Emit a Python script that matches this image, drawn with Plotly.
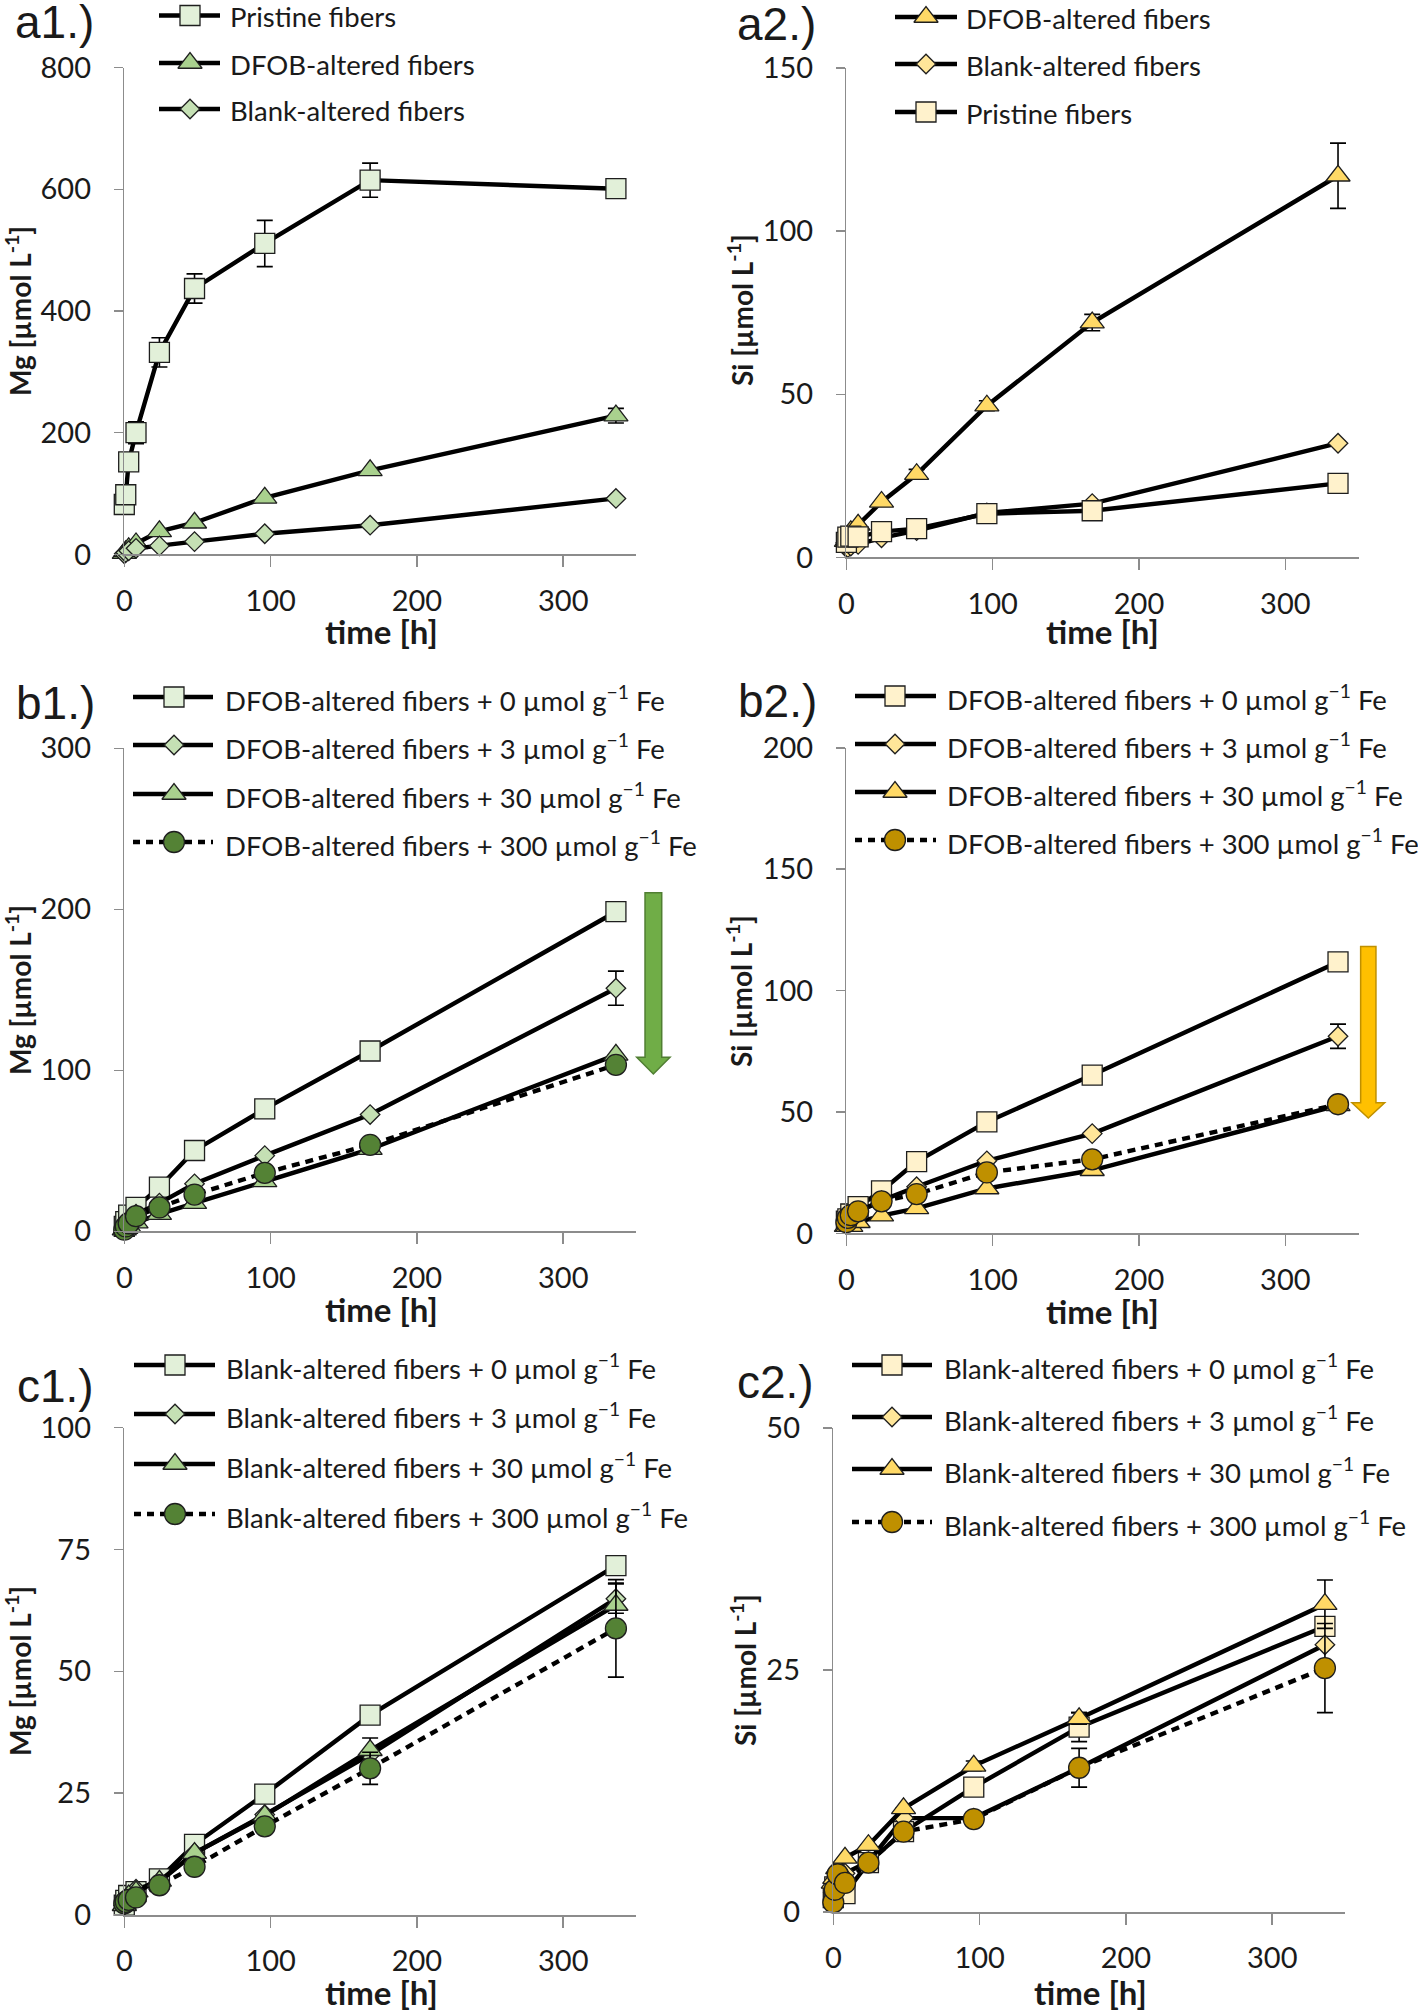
import plotly.graph_objects as go

W, H = 1418, 2010

# ---------------- data ----------------
time_h = [0, 1, 3, 8, 24, 48, 96, 168, 336]

# a1: Mg
a1_pristine = [82, 98, 152, 200, 332, 437, 511, 615, 601]
a1_pristine_err = [0, 0, 0, 18, 24, 24, 38, 28, 10]
a1_dfob = [2, 5, 10, 18, 38, 52, 93, 138, 228]
a1_dfob_err = [0, 0, 0, 0, 0, 0, 0, 0, 12]
a1_blank = [1, 3, 6, 10, 14, 21, 34, 48, 92]
a1_blank_err = [0, 0, 0, 0, 0, 0, 0, 0, 2]

# a2: Si
a2_dfob = [5, 6, 8, 10, 17, 25.5, 46.5, 72, 117]
a2_dfob_err = [0, 0, 0, 0, 0, 1.5, 1.5, 2.5, 10]
a2_blank = [3, 3, 3.5, 4, 6, 8.2, 13.6, 16.5, 35]
a2_blank_err = [0, 0, 0, 0, 0, 0, 0, 0, 0.5]
a2_pristine = [4.6, 6.2, 6.5, 6.3, 7.9, 8.8, 13.4, 14.3, 22.7]
a2_pristine_err = [0, 0, 0, 0, 0, 0, 0.5, 0.5, 0.5]

# b1: Mg, DFOB-altered + Fe
b1_fe0 = [3, 6, 10, 14.8, 27.4, 50.2, 76, 112, 198.5]
b1_fe3 = [2, 4, 6, 10.7, 17.5, 29.5, 47, 72.5, 151]
b1_fe3_err = [0, 0, 0, 0, 0, 0, 0, 0, 10.6]
b1_fe30 = [1, 2, 3, 5.4, 10.7, 17.5, 31, 51, 109.6]
b1_fe300 = [1, 3, 5, 9.4, 14.8, 22.8, 36.3, 53.7, 103.4]

# b2: Si, DFOB-altered + Fe
b2_fe0 = [5, 6, 8, 11, 17.5, 29.6, 45.9, 65.2, 111.8]
b2_fe3 = [4, 5, 7, 9, 13.5, 19.2, 29.9, 41.1, 81.2]
b2_fe3_err = [0, 0, 0, 0, 0, 0, 0, 0, 5]
b2_fe30 = [3, 3, 3, 4.6, 7.3, 10.3, 18.5, 26, 52.7]
b2_fe300 = [4.6, 6.4, 7.5, 9.1, 13.2, 16.2, 25.1, 30.5, 53.2]

# c1: Mg, Blank-altered + Fe
c1_fe0 = [2, 3, 4, 4.8, 7.4, 14.5, 24.8, 41.0, 71.7]
c1_fe3 = [2, 3, 4, 5.3, 6.8, 12.7, 20.6, 32.9, 64.9]
c1_fe3_err = [0, 0, 0, 0, 0, 0, 0, 0, 3]
c1_fe30 = [2, 3, 4, 4.8, 7, 12.7, 20.4, 33.8, 63.6]
c1_fe30_err = [0, 0, 0, 0, 0, 0, 0, 2.5, 4.5]
c1_fe300 = [2.4, 2.7, 3.1, 3.6, 6.1, 9.9, 18.2, 30.1, 58.8]
c1_fe300_err = [0, 0, 0, 0, 0, 0, 0, 3.3, 10]

# c2: Si, Blank-altered + Fe
c2_fe0 = [1.5, 2.6, 2.2, 1.9, 5.1, 8.3, 12.9, 19.1, 29.5]
c2_fe0_err = [0, 0, 0, 0, 0, 0, 0, 1.5, 0.5]
c2_fe3 = [2, 2.5, 3, 4, 5.2, 9.7, 9.7, 14.9, 27.6]
c2_fe30 = [3, 3.5, 4.5, 5.6, 6.9, 10.7, 15.1, 20, 31.8]
c2_fe30_err = [0, 0, 0, 0, 0, 0, 0.5, 0.6, 2.5]
c2_fe300 = [1.0, 2.3, 3.9, 3.0, 5.1, 8.3, 9.6, 14.9, 25.2]
c2_fe300_err = [0, 0, 0, 0, 0, 0, 0.7, 2.0, 4.6]

zeros = [0] * len(time_h)

x_ticks = [0, 100, 200, 300]
fe_doses = ["0", "3", "30", "300"]

# arrows (data units of their panel): x, y_top, y_tip
b1_arrow = (361.6, 210.3, 97.7)
b2_arrow = (356.7, 118.2, 47.5)

# ---------------- styles ----------------
G0, G3, G30, G300 = "#E2F0D9", "#C5E0B4", "#A9D18E", "#548235"
Y0, Y3, Y30, Y300 = "#FFF2CC", "#FFE699", "#FFD966", "#BF9000"
AXC = "#8C8C8C"
FONT = "Lato"
SYM = {"square": 20, "diamond": 15, "triangle-up": 21, "circle": 21}
DASH_DATA = "8px,6px"
DASH_LEG = "7px,6px"

def fe_label(base, n):
    return f"{base} + {n} µmol g<sup>−1</sup> Fe"

panels = [
    dict(key="a1", box=(124.3, 636.4, 67.6, 554.4), ymax=800, dtick=200,
         ytitle="Mg", label="a1.)", lab_xy=(54, 22), yt_xy=(18, 311), xt_xy=(381, 631),
         leg=dict(x0=159, x1=220, xm=190, xt=228, rows=[15.5, 63, 109]),
         series=[("Pristine fibers", a1_pristine, a1_pristine_err, "square", G0, "solid"),
                 ("DFOB-altered fibers", a1_dfob, a1_dfob_err, "triangle-up", G30, "solid"),
                 ("Blank-altered fibers", a1_blank, a1_blank_err, "diamond", G3, "solid")]),
    dict(key="a2", box=(846.4, 1358.5, 68.1, 557.4), ymax=150, dtick=50,
         ytitle="Si", label="a2.)", lab_xy=(776, 24), yt_xy=(740, 310), xt_xy=(1102, 631),
         leg=dict(x0=895, x1=957, xm=926, xt=964, rows=[17, 64, 112]),
         series=[("DFOB-altered fibers", a2_dfob, a2_dfob_err, "triangle-up", Y30, "solid"),
                 ("Blank-altered fibers", a2_blank, a2_blank_err, "diamond", Y3, "solid"),
                 ("Pristine fibers", a2_pristine, a2_pristine_err, "square", Y0, "solid")]),
    dict(key="b1", box=(124.3, 636.4, 748.3, 1231.3), ymax=300, dtick=100,
         ytitle="Mg", label="b1.)", lab_xy=(55, 703), yt_xy=(18, 990), xt_xy=(381, 1309),
         leg=dict(x0=133, x1=213, xm=174, xt=223, rows=[697, 745, 794, 842]),
         series=[(fe_label("DFOB-altered fibers", fe_doses[0]), b1_fe0, zeros, "square", G0, "solid"),
                 (fe_label("DFOB-altered fibers", fe_doses[1]), b1_fe3, b1_fe3_err, "diamond", G3, "solid"),
                 (fe_label("DFOB-altered fibers", fe_doses[2]), b1_fe30, zeros, "triangle-up", G30, "solid"),
                 (fe_label("DFOB-altered fibers", fe_doses[3]), b1_fe300, zeros, "circle", G300, "dash")],
         arrow=(b1_arrow, 16.7, 33.3, 16.7, "#70AD47", "#507E32")),
    dict(key="b2", box=(846.4, 1358.5, 747.8, 1233.4), ymax=200, dtick=50,
         ytitle="Si", label="b2.)", lab_xy=(777, 701), yt_xy=(739, 991), xt_xy=(1102, 1311),
         leg=dict(x0=855, x1=936, xm=895, xt=945, rows=[696, 744, 792, 840]),
         series=[(fe_label("DFOB-altered fibers", fe_doses[0]), b2_fe0, zeros, "square", Y0, "solid"),
                 (fe_label("DFOB-altered fibers", fe_doses[1]), b2_fe3, b2_fe3_err, "diamond", Y3, "solid"),
                 (fe_label("DFOB-altered fibers", fe_doses[2]), b2_fe30, zeros, "triangle-up", Y30, "solid"),
                 (fe_label("DFOB-altered fibers", fe_doses[3]), b2_fe300, zeros, "circle", Y300, "dash")],
         arrow=(b2_arrow, 15.3, 32.7, 15.2, "#FFC000", "#BF9000")),
    dict(key="c1", box=(124.3, 636.4, 1427.6, 1915.0), ymax=100, dtick=25,
         ytitle="Mg", label="c1.)", lab_xy=(55, 1386), yt_xy=(18, 1671), xt_xy=(381, 1992),
         leg=dict(x0=134, x1=215, xm=175, xt=224, rows=[1365, 1414, 1464, 1514]),
         series=[(fe_label("Blank-altered fibers", fe_doses[0]), c1_fe0, zeros, "square", G0, "solid"),
                 (fe_label("Blank-altered fibers", fe_doses[1]), c1_fe3, c1_fe3_err, "diamond", G3, "solid"),
                 (fe_label("Blank-altered fibers", fe_doses[2]), c1_fe30, c1_fe30_err, "triangle-up", G30, "solid"),
                 (fe_label("Blank-altered fibers", fe_doses[3]), c1_fe300, c1_fe300_err, "circle", G300, "dash")]),
    dict(key="c2", box=(833.3, 1345.4, 1428.0, 1912.0), ymax=50, dtick=25,
         ytitle="Si", label="c2.)", lab_xy=(775, 1382), yt_xy=(743, 1670), xt_xy=(1090, 1992),
         leg=dict(x0=852, x1=932, xm=892, xt=942, rows=[1365, 1417, 1469, 1522]),
         series=[(fe_label("Blank-altered fibers", fe_doses[0]), c2_fe0, c2_fe0_err, "square", Y0, "solid"),
                 (fe_label("Blank-altered fibers", fe_doses[1]), c2_fe3, zeros, "diamond", Y3, "solid"),
                 (fe_label("Blank-altered fibers", fe_doses[2]), c2_fe30, c2_fe30_err, "triangle-up", Y30, "solid"),
                 (fe_label("Blank-altered fibers", fe_doses[3]), c2_fe300, c2_fe300_err, "circle", Y300, "dash")]),
]

XMAX = 350

fig = go.Figure()
layout = dict(width=W, height=H, margin=dict(l=0, r=0, t=0, b=0, pad=0, autoexpand=False),
              autosize=False,
              paper_bgcolor="white", plot_bgcolor="rgba(0,0,0,0)",
              showlegend=False, font=dict(family=FONT, color="#1a1a1a"))
annotations = []
shapes = []

OV = 7  # overlay axis index (pixel coordinates)

for i, p in enumerate(panels, start=1):
    left, right, top, bottom = p["box"]
    xa = "xaxis" if i == 1 else f"xaxis{i}"
    ya = "yaxis" if i == 1 else f"yaxis{i}"
    xr = "x" if i == 1 else f"x{i}"
    yr = "y" if i == 1 else f"y{i}"
    layout[xa] = dict(domain=[left / W, right / W], range=[0, XMAX], anchor=yr,
                      tickvals=x_ticks, showline=True, linecolor=AXC, linewidth=1.5,
                      ticks="outside", ticklen=11, tickcolor=AXC, tickwidth=1.5,
                      showgrid=False, zeroline=False, ticklabelstandoff=9, automargin=False,
                      tickfont=dict(family=FONT, size=29, color="#1a1a1a"))
    layout[ya] = dict(domain=[1 - bottom / H, 1 - top / H], range=[0, p["ymax"]], anchor=xr,
                      dtick=p["dtick"], tick0=0, showline=True, linecolor=AXC, linewidth=1.5,
                      ticks="outside", ticklen=9, tickcolor=AXC, tickwidth=1.5,
                      showgrid=False, zeroline=False, ticklabelstandoff=17, automargin=False,
                      tickfont=dict(family=FONT, size=29, color="#1a1a1a"))

    for name, yv, err, sym, col, dash in p["series"]:
        fig.add_trace(go.Scatter(
            x=time_h, y=yv, mode="lines+markers", xaxis=xr, yaxis=yr, cliponaxis=False,
            line=dict(color="black", width=4.4, dash=DASH_DATA if dash == "dash" else "solid"),
            marker=dict(symbol=sym, size=SYM[sym], color=col,
                        line=dict(color="#1e1e1e", width=1.3)),
            error_y=dict(type="data", array=err, visible=True, color="black",
                         thickness=1.6, width=8),
            name=name, hoverinfo="skip"))

    # helpers data -> overlay pixels
    def px(x, left=left, right=right):
        return left + x / XMAX * (right - left)

    def py(y, top=top, bottom=bottom, ymax=p["ymax"]):
        return bottom - y / ymax * (bottom - top)

    # legend (drawn on the pixel overlay axis)
    lg = p["leg"]
    ovx, ovy = f"x{OV}", f"y{OV}"
    for (name, yv, err, sym, col, dash), ry in zip(p["series"], lg["rows"]):
        fig.add_trace(go.Scatter(
            x=[lg["x0"], lg["x1"]], y=[ry, ry], mode="lines", xaxis=ovx, yaxis=ovy,
            line=dict(color="black", width=4.6, dash=DASH_LEG if dash == "dash" else "solid"),
            hoverinfo="skip", cliponaxis=False))
        fig.add_trace(go.Scatter(
            x=[lg["xm"]], y=[ry], mode="markers", xaxis=ovx, yaxis=ovy,
            marker=dict(symbol=sym, size=SYM[sym], color=col, line=dict(color="#1e1e1e", width=1.3)),
            hoverinfo="skip", cliponaxis=False))
        annotations.append(dict(x=lg["xt"], y=ry + 1, xref=ovx, yref=ovy, text=name,
                                showarrow=False, xanchor="left", yanchor="middle",
                                font=dict(family=FONT, size=27.5, color="#1a1a1a")))

    # panel label
    annotations.append(dict(x=p["lab_xy"][0], y=p["lab_xy"][1], xref=ovx, yref=ovy, text=p["label"],
                            showarrow=False, xanchor="center", yanchor="middle",
                            font=dict(family="Liberation Sans", size=46, color="#1a1a1a")))
    # axis titles
    annotations.append(dict(x=p["yt_xy"][0], y=p["yt_xy"][1], xref=ovx, yref=ovy,
                            text=f"<b>{p['ytitle']} [µmol L<sup>-1</sup>]</b>", textangle=-90,
                            showarrow=False, xanchor="center", yanchor="middle",
                            font=dict(family=FONT, size=28, color="#1a1a1a")))
    annotations.append(dict(x=p["xt_xy"][0], y=p["xt_xy"][1], xref=ovx, yref=ovy,
                            text="<b>time [h]</b>",
                            showarrow=False, xanchor="center", yanchor="middle",
                            font=dict(family=FONT, size=33, color="#1a1a1a")))

    # arrow
    if "arrow" in p:
        (ax_, ytop, ytip), sw, hw, hl, fillc, linec = p["arrow"]
        cx = px(ax_)
        yt, yp = py(ytop), py(ytip)
        yh = yp - hl
        path = (f"M{cx - sw/2},{yt} L{cx + sw/2},{yt} L{cx + sw/2},{yh} L{cx + hw/2},{yh} "
                f"L{cx},{yp} L{cx - hw/2},{yh} L{cx - sw/2},{yh} Z")
        shapes.append(dict(type="path", path=path, xref=ovx, yref=ovy,
                           fillcolor=fillc, line=dict(color=linec, width=1.5), layer="above"))

layout[f"xaxis{OV}"] = dict(domain=[0, 1], range=[0, W], anchor=f"y{OV}", visible=False,
                            fixedrange=True, automargin=False)
layout[f"yaxis{OV}"] = dict(domain=[0, 1], range=[H, 0], anchor=f"x{OV}", visible=False,
                            fixedrange=True, automargin=False)
layout["annotations"] = annotations
layout["shapes"] = shapes
fig.update_layout(**layout)

fig.write_html("out.html", config={"displayModeBar": False, "staticPlot": True},
               post_script="document.body.style.margin='0';document.body.style.padding='0';")
